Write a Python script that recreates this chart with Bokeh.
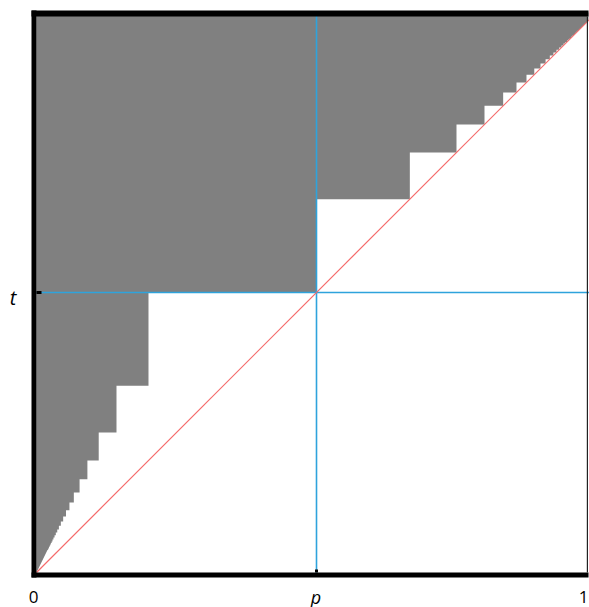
from bokeh.plotting import figure
from bokeh.models import Range1d
from bokeh.core.properties import value
from bokeh.embed import file_html
from bokeh.resources import INLINE

# ---- data ----
# left staircase (p < 1/2): edge positions and gray-start levels
left_edge_p = [0.2, 0.142857, 0.111111, 0.090909, 0.076923, 0.066667, 0.058824,
               0.052632, 0.047619, 0.043478, 0.04, 0.037037, 0.034483, 0.032258,
               0.030303, 0.028571, 0.027027, 0.025641, 0.02439, 0.023256,
               0.022222, 0.021277, 0.020408, 0.019608]
left_level_t = [0.5, 0.333333, 0.25, 0.2, 0.166667, 0.142857, 0.125, 0.111111,
                0.1, 0.090909, 0.083333, 0.076923, 0.071429, 0.066667, 0.0625,
                0.058824, 0.055556, 0.052632, 0.05, 0.047619, 0.045455,
                0.043478, 0.041667, 0.04]
# right staircase (p > 1/2)
right_edge_p = [0.666667, 0.75, 0.8, 0.833333, 0.857143, 0.875, 0.888889, 0.9,
                0.909091, 0.916667, 0.923077, 0.928571, 0.933333, 0.9375,
                0.941176, 0.944444, 0.947368, 0.95, 0.952381, 0.954545,
                0.956522, 0.958333, 0.96, 0.961538, 0.962963, 0.964286,
                0.965517, 0.966667, 0.967742]
right_level_t = list(right_edge_p)
p_mark = 0.5
t_mark = 0.5
x_tick_labels = ["0", "p", "1"]
y_tick_labels = ["t"]

# ---- layout helpers (pixel geometry, figure at page origin) ----
S = 560.0
X0, Y0 = 36.0, 572.0
def dx(X):
    return (X - X0) / S
def dy(Y):
    return (Y0 - Y) / S

p = figure(width=589, height=607, output_backend="svg", toolbar_location=None,
           x_range=Range1d(dx(0), dx(589)), y_range=Range1d(dy(607), dy(0)),
           min_border=0)
p.axis.visible = False
p.grid.visible = False
p.outline_line_color = None
p.background_fill_color = "white"
p.border_fill_color = "white"

# gray region polygon
xs = [0, 0, 1]
ys = [0, 1, 1]
rv = [(p_mark, right_level_t[0])]
for i in range(len(right_edge_p)):
    rv.append((right_edge_p[i], right_level_t[i]))
    if i + 1 < len(right_edge_p):
        rv.append((right_edge_p[i], right_level_t[i + 1]))
for a, b in reversed(rv):
    xs.append(a); ys.append(b)
xs.append(p_mark); ys.append(t_mark)
for i in range(len(left_edge_p)):
    xs.append(left_edge_p[i]); ys.append(left_level_t[i])
    if i + 1 < len(left_edge_p):
        xs.append(left_edge_p[i]); ys.append(left_level_t[i + 1])
p.patch(xs, ys, fill_color="#808080", line_color=None)

# white strip beyond the cropped right edge
p.quad(left=[dx(588)], right=[dx(600)], bottom=[dy(607)], top=[dy(0)],
       fill_color="white", line_color=None)

# guide lines
p.line([p_mark, p_mark], [0, 1], line_color="#2ea3dc", line_width=1.6)
p.line([0, 1], [t_mark, t_mark], line_color="#2ea3dc", line_width=1.6)
p.line([0, 1], [0, 1], line_color="#f56a6a", line_width=1.2)

# frame borders
p.quad(left=[dx(31)], right=[dx(36)], bottom=[dy(577)], top=[dy(10)],
       fill_color="black", line_color=None)
p.quad(left=[dx(31)], right=[dx(588)], bottom=[dy(577)], top=[dy(572)],
       fill_color="black", line_color=None)
p.quad(left=[dx(31)], right=[dx(588)], bottom=[dy(16)], top=[dy(10)],
       fill_color="black", line_color=None)
p.quad(left=[dx(586.3)], right=[dx(587.5)], bottom=[dy(572)], top=[dy(16)],
       fill_color="#222222", line_color=None)

# small ticks
p.quad(left=[dx(36)], right=[dx(41)], bottom=[dy(293.5)], top=[dy(290.5)],
       fill_color="black", line_color=None)
p.quad(left=[dx(314.5)], right=[dx(317.5)], bottom=[dy(572)], top=[dy(569)],
       fill_color="black", line_color=None)

# labels
p.text(x=[dx(33)], y=[dy(596)], text=[x_tick_labels[0]],
       text_font=value("Open Sans"), text_font_style="normal",
       text_font_size="17px", text_align="center", text_baseline="alphabetic",
       text_color="black")
p.text(x=[dx(588)], y=[dy(596)], text=[x_tick_labels[2]],
       text_font=value("Open Sans"), text_font_style="normal",
       text_font_size="17px", text_align="right", text_baseline="alphabetic",
       text_color="black")
p.text(x=[dx(315.5)], y=[dy(596)], text=[x_tick_labels[1]],
       text_font=value("Open Sans"), text_font_style="italic",
       text_font_size="18px", text_align="center", text_baseline="alphabetic",
       text_color="black")
p.text(x=[dx(12.5)], y=[dy(297)], text=[y_tick_labels[0]],
       text_font=value("Open Sans"), text_font_style="italic",
       text_font_size="20px", text_align="center", text_baseline="alphabetic",
       text_color="black")

open("out.html", "w").write(file_html(p, INLINE))
